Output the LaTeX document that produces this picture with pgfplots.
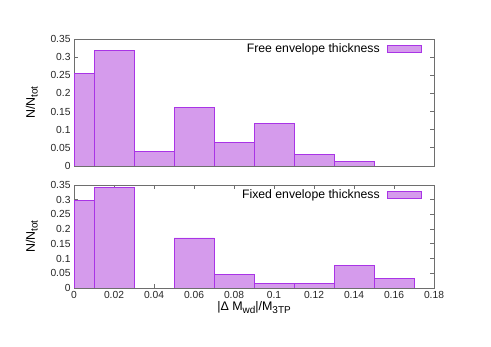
\documentclass[border=0pt]{standalone}
\usepackage{pgfplots}
\pgfplotsset{compat=1.18}
\usepackage{fontspec}
\setmainfont{Liberation Sans}

\definecolor{barfill}{HTML}{D59BEC}
\definecolor{baredge}{HTML}{A934E6}
\definecolor{frame}{HTML}{6E6E6E}

% gnuplot-like subscript
\newcommand\sub[1]{\raisebox{-2.8bp}{\fontsize{10}{10}\selectfont #1}}

\pgfplotsset{
  panel/.style={
    scale only axis, width=360bp,
    xmin=0, xmax=0.18, ymin=0, ymax=0.35,
    ytick={0,0.05,0.1,0.15,0.2,0.25,0.3,0.35},
    scaled ticks=false,
    tick label style={font=\fontsize{10.3}{12}\selectfont, text=black!85},
    /pgf/number format/fixed,
    /pgf/number format/precision=2,
    /pgf/number format/assume math mode=true,
    axis line style={frame, line width=0.9bp},
    tick style={frame, line width=0.8bp},
    major tick length=4bp,
    tick align=inside,
    ylabel={N/N\sub{tot}},
    ylabel style={at={(axis description cs:-0.117,0.5)}, anchor=center, font=\fontsize{12.5}{14}\selectfont},
    legend plot pos=right,
    legend style={at={(axis description cs:0.966,1)}, anchor=east, yshift=-10bp, draw=none, fill=none,
      font=\fontsize{12.3}{14}\selectfont, inner sep=0pt},
    legend image code/.code={\path (0bp,0bp);
      \draw[baredge, fill=barfill, line width=0.9bp] (5bp,-3.5bp) rectangle (39bp,3.5bp);},
  },
  bars/.style={ybar interval, fill=barfill, draw=baredge, line width=0.9bp},
}

\begin{document}
\begin{tikzpicture}
\begin{axis}[panel, at={(74bp,181bp)}, anchor=south west, height=127bp,
  xtick=\empty]
  \addplot[bars] coordinates {
    (0,0.254) (0.01,0.318) (0.03,0.039) (0.05,0.162) (0.07,0.065)
    (0.09,0.117) (0.11,0.032) (0.13,0.013) (0.15,0)
  };
  \addlegendentry{Free envelope thickness}
\end{axis}

\begin{axis}[panel, at={(74bp,59bp)}, anchor=south west, height=103bp,
  xtick={0,0.02,0.04,0.06,0.08,0.1,0.12,0.14,0.16,0.18},
  xlabel={|Δ M\sub{wd}|/M\sub{3TP}},
  xlabel style={at={(axis description cs:0.5,0)}, anchor=base, yshift=-23bp, font=\fontsize{12.5}{14}\selectfont}]
  \addplot[bars] coordinates {
    (0,0.296) (0.01,0.343) (0.03,0)
  };
  \addlegendentry{Fixed envelope thickness}
  \addplot[bars, forget plot] coordinates {
    (0.05,0.170) (0.07,0.047) (0.09,0.016) (0.11,0.016)
    (0.13,0.078) (0.15,0.032) (0.17,0)
  };
\end{axis}
\path[use as bounding box] (0,0) rectangle (491bp,347bp);
\end{tikzpicture}
\end{document}
